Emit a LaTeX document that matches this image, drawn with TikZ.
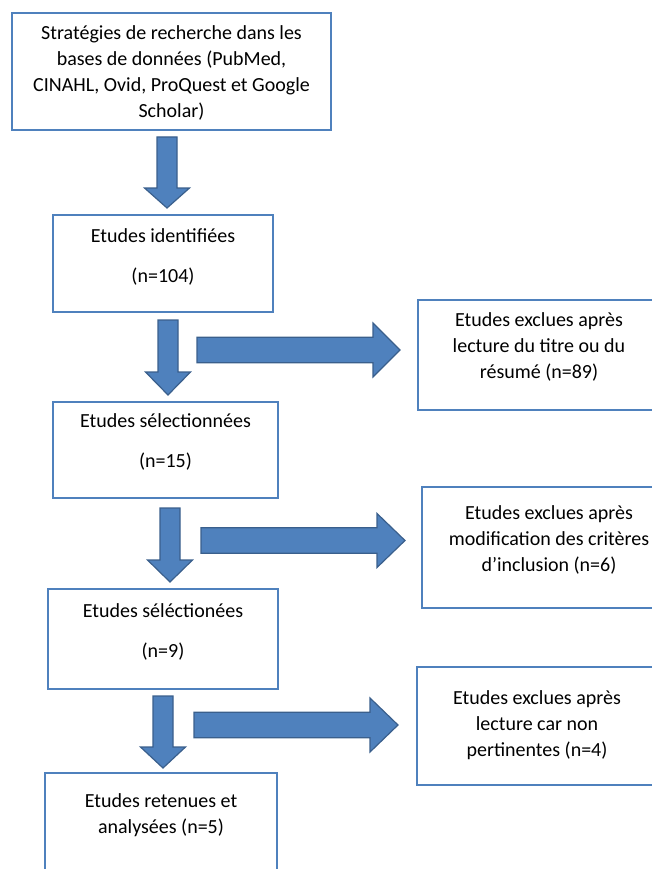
\documentclass[tikz,border=0pt]{standalone}
\usepackage{fontspec}
\setmainfont{Carlito}
\definecolor{officeblue}{HTML}{4F81BD}
\definecolor{officeedge}{HTML}{3A5F8C}

% block arrow pointing down: centre x, top of shaft, start of head, tip
\newcommand\downblock[4]{%
  \draw[blockarrow] (#1-10,#2) -- (#1+10,#2) -- (#1+10,#3) -- (#1+22.5,#3)
    -- (#1,#4) -- (#1-22.5,#3) -- (#1-10,#3) -- cycle;}
% block arrow pointing right: start of shaft, start of head, tip, centre y
\newcommand\rightblock[4]{%
  \draw[blockarrow] (#1,#4-12.75) -- (#2,#4-12.75) -- (#2,#4-27) -- (#3,#4)
    -- (#2,#4+27) -- (#2,#4+12.75) -- (#1,#4+12.75) -- cycle;}

\begin{document}
\begin{tikzpicture}[x=1pt,y=-1pt,
  box/.style={draw=officeblue, line width=2.8pt, fill=white, inner sep=0pt},
  label/.style={font=\fontsize{20}{26}\selectfont, align=center, inner sep=0pt, text=black},
  blockarrow/.style={fill=officeblue, draw=officeedge, line width=1.2pt, line join=miter}]
\useasboundingbox (0,0) rectangle (652,869);

% main column
\node[box, minimum width=319pt, minimum height=117pt] (search)   at (171.5,71.5) {};
\node[box, minimum width=220pt, minimum height=97pt]  (found)    at (163,263.5) {};
\node[box, minimum width=225pt, minimum height=96pt]  (picked)   at (165.5,450) {};
\node[box, minimum width=230pt, minimum height=100pt] (picked2)  at (163,639) {};
\node[box, minimum width=232pt, minimum height=127pt] (kept)     at (161,836.5) {};

% exclusion column
\node[box, minimum width=244pt, minimum height=110pt] (excl1) at (540,355) {};
\node[box, minimum width=244pt, minimum height=121pt] (excl2) at (544,547.5) {};
\node[box, minimum width=244pt, minimum height=118pt] (excl3) at (539,726) {};

% texts
\node[label] (tsearch) at (171.5,72.5) {Stratégies de recherche dans les\\bases de données (PubMed,\\CINAHL, Ovid, ProQuest et Google\\Scholar)};
\node[label] (tfound) at (163,257) {Etudes identifiées\\[14pt](n=104)};
\node[label] (tpicked) at (165.5,442) {Etudes sélectionnées\\[14pt](n=15)};
\node[label] (tpicked2) at (163,632) {Etudes séléctionées\\[14pt](n=9)};
\node[label] (tkept) at (161,815) {Etudes retenues et\\analysées (n=5)};
\node[label] (texcl1) at (539,347) {Etudes exclues après\\lecture du titre ou du\\résumé (n=89)};
\node[label] (texcl2) at (549,540) {Etudes exclues après\\modification des critères\\d’inclusion (n=6)};
\node[label] (texcl3) at (537,725) {Etudes exclues après\\lecture car non\\pertinentes (n=4)};

% flow arrows
\downblock{167}{137}{188}{208}
\downblock{168}{320}{372}{395}
\downblock{170}{508}{560}{582}
\downblock{163}{696}{747}{768}
\rightblock{197}{373}{400}{350}
\rightblock{201}{377}{405}{540.5}
\rightblock{194}{370}{398}{725}
\end{tikzpicture}
\end{document}
